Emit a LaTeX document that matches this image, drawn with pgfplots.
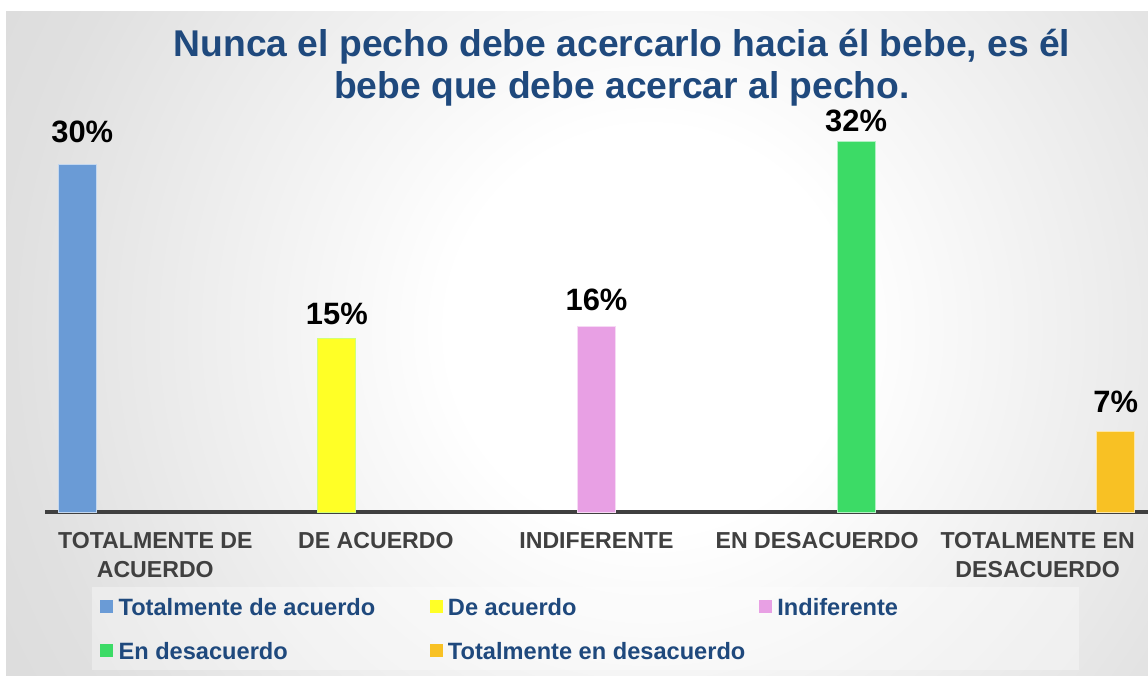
\documentclass[border=0pt]{standalone}
\usepackage{pgfplots}
\pgfplotsset{compat=1.18}
\usepackage{fontspec}
\setmainfont{Liberation Sans}
\definecolor{cblue}{RGB}{106,155,214}
\definecolor{cyellow}{RGB}{255,255,38}
\definecolor{cpink}{RGB}{232,160,228}
\definecolor{cgreen}{RGB}{60,219,102}
\definecolor{cgold}{RGB}{248,193,36}
\definecolor{titleblue}{RGB}{31,73,125}
\definecolor{tickgray}{RGB}{64,64,64}
\definecolor{bgA}{RGB}{224,224,224}
\definecolor{bgB}{RGB}{200,200,200}
\definecolor{bgC}{RGB}{194,194,194}
\pgfdeclareradialshading{bgshade}{\pgfpoint{0bp}{0bp}}{%
  color(0bp)=(white); color(6.8bp)=(white); color(21.6bp)=(bgA); color(42.6bp)=(bgB); color(50bp)=(bgC)}
\begin{document}
\begin{tikzpicture}
\fill[white] (0bp,0bp) rectangle (1148bp,677bp);
\begin{scope}
\clip (6bp,1bp) rectangle (1148bp,665bp);
\shade[shading=bgshade] (650bp,347bp) circle (740bp);
\end{scope}
\begin{axis}[
  at={(45bp,165bp)}, anchor=south west,
  scale only axis, width=1103bp, height=416.9bp,
  xmin=-0.5, xmax=4.5, ymin=0, ymax=36,
  axis x line=bottom, axis y line=none,
  x axis line style={-, draw=tickgray, line width=3bp},
  xtick={0,1,2,3,4}, major tick length=0pt,
  xticklabels={{TOTALMENTE DE\\ACUERDO},{DE ACUERDO},{INDIFERENTE},{EN DESACUERDO},{TOTALMENTE EN\\DESACUERDO}},
  xticklabel style={align=center, anchor=north, inner sep=0pt, yshift=-20bp,
    font=\fontsize{23.2}{29}\selectfont\bfseries, text=tickgray},
  clip=false,
  ybar, bar width=38bp,
  /pgf/number format/assume math mode=true,
  legend image code/.code={\fill[#1,draw=none,fill opacity=1] (0bp,-6.5bp) rectangle (13bp,6.5bp); \path (18bp,0bp);},
  legend columns=3,
  legend style={at={(0.04261,-0.1796)}, anchor=north west, fill=white, fill opacity=0.35, text opacity=1, draw=none,
    inner xsep=8bp, inner ysep=8bp, row sep=21bp, column sep=0pt,
    nodes={inner sep=0pt, text height=20bp, text depth=3bp, anchor=west},
    cells={anchor=west},
    font=\fontsize{23.7}{27}\selectfont\bfseries, text=titleblue},
  nodes near coords={\pgfmathprintnumber{\pgfplotspointmeta}\%},
  every node near coord/.append style={font=\fontsize{31}{36}\selectfont\bfseries, text=black, inner sep=0pt, anchor=south},
]
\addplot[bar shift=-78bp, fill=cblue, draw=white!60!cblue, line width=0.8bp,
  every node near coord/.append style={yshift=21bp, xshift=5bp}] coordinates {(0,30)};
\addlegendentry{\makebox[311bp][l]{Totalmente de acuerdo}}
\addplot[bar shift=-39bp, fill=cyellow, draw=cyellow!70!green!60!white, line width=0.8bp,
  every node near coord/.append style={yshift=13bp}] coordinates {(1,15)};
\addlegendentry{\makebox[311bp][l]{De acuerdo}}
\addplot[bar shift=0bp, fill=cpink, draw=white!60!cpink, line width=0.8bp,
  every node near coord/.append style={yshift=16bp}] coordinates {(2,16)};
\addlegendentry{\makebox[294bp][l]{Indiferente}}
\addplot[bar shift=39bp, fill=cgreen, draw=white!60!cgreen, line width=0.8bp,
  every node near coord/.append style={yshift=9bp}] coordinates {(3,32)};
\addlegendentry{\makebox[311bp][l]{En desacuerdo}}
\addplot[bar shift=78bp, fill=cgold, draw=white!60!cgold, line width=0.8bp,
  every node near coord/.append style={yshift=18bp}] coordinates {(4,7)};
\addlegendentry{\makebox[311bp][l]{Totalmente en desacuerdo}}
\end{axis}
\node[anchor=base, inner sep=0pt, text=titleblue, font=\fontsize{37.4}{42}\selectfont\bfseries] at (622bp,620bp) {Nunca el pecho debe acercarlo hacia él bebe, es él};
\node[anchor=base, inner sep=0pt, text=titleblue, font=\fontsize{37.4}{42}\selectfont\bfseries] at (622bp,578bp) {bebe que debe acercar al pecho.};
\pgfresetboundingbox
\useasboundingbox (0bp,0bp) rectangle (1148bp,677bp);
\end{tikzpicture}
\end{document}
